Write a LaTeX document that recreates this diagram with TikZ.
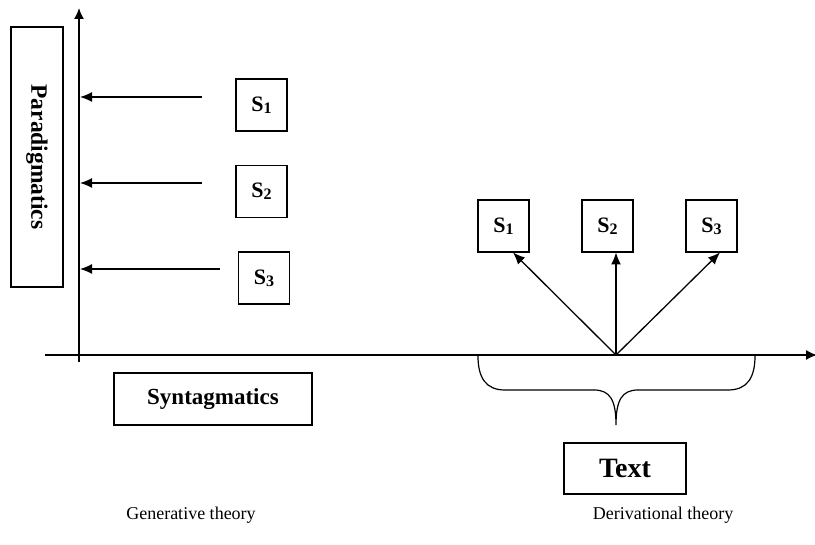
\documentclass[tikz,border=0pt]{standalone}
\usepackage{fontspec}
\setmainfont{Liberation Serif}
\usetikzlibrary{arrows.meta}
\tikzset{
  box/.style={draw, line width=1.2pt, inner sep=0pt, font=\bfseries\fontsize{22}{26}\selectfont},
  sbox/.style={box, minimum width=51pt, minimum height=52pt},
  axis/.style={line width=1.5pt, -{Latex[length=11pt,width=10pt]}},
  arr/.style={line width=1.3pt, -{Latex[length=12pt,width=10pt]}},
  lab/.style={font=\fontsize{18}{22}\selectfont}
}
\newcommand{\Sx}[1]{S\raisebox{-0.2ex}{\fontsize{16}{19}\selectfont #1}}
\begin{document}
\begin{tikzpicture}[x=1pt,y=-1pt]
\useasboundingbox (0,0) rectangle (815,545);
% axes
\coordinate (vb) at (79,362);
\coordinate (vt) at (79,8);
\coordinate (hl) at (45,355);
\coordinate (hr) at (817,355);
\draw[axis] (vb) -- (vt);
\draw[axis] (hl) -- (hr);
% Paradigmatics
\node[box, minimum width=52pt, minimum height=260pt] (para) at (37,157) {};
\node[font=\bfseries\fontsize{23.5}{28}\selectfont, rotate=-90] (paratxt) at (para.center) {Paradigmatics};
% left S boxes
\node[sbox] (ls1) at (261.5,105) {\Sx{1}};
\node[sbox] (ls2) at (261.5,191.5) {\Sx{2}};
\node[sbox] (ls3) at (264,278) {\Sx{3}};
\coordinate (a1s) at (202,97);
\coordinate (a2s) at (202,183);
\coordinate (a3s) at (220,269);
\coordinate (a1e) at (80,97);
\coordinate (a2e) at (80,183);
\coordinate (a3e) at (80,269);
\draw[arr] (a1s) -- (a1e);
\draw[arr] (a2s) -- (a2e);
\draw[arr] (a3s) -- (a3e);
% Syntagmatics
\node[box, minimum width=198pt, minimum height=52pt, font=\bfseries\fontsize{23}{27}\selectfont] (syn) at (213,399) {Syntagmatics};
% right S boxes
\node[sbox] (rs1) at (503.5,226) {\Sx{1}};
\node[sbox] (rs2) at (607.5,226) {\Sx{2}};
\node[sbox] (rs3) at (711.5,226) {\Sx{3}};
\coordinate (o) at (616,355);
\coordinate (t1) at (513,252.5);
\coordinate (t2) at (616,252.5);
\coordinate (t3) at (720,252.5);
\draw[arr] (o) -- (t1);
\draw[arr] (o) -- (t2);
\draw[arr] (o) -- (t3);
% brace
\draw[line width=1.2pt] (478,356) .. controls (478,378) and (486,390) .. (505,390) -- (594,390)
  .. controls (610,390) and (616,400) .. (616,425)
  .. controls (616,400) and (622,390) .. (638,390) -- (728,390)
  .. controls (747,390) and (755,378) .. (755,356);
% Text box
\node[box, minimum width=122pt, minimum height=51pt, font=\bfseries\fontsize{28}{33}\selectfont] (txt) at (625,468.5) {Text};
% labels
\node[lab] (gen) at (191,515) {Generative theory};
\node[lab] (der) at (663,515) {Derivational theory};
\end{tikzpicture}
\end{document}
